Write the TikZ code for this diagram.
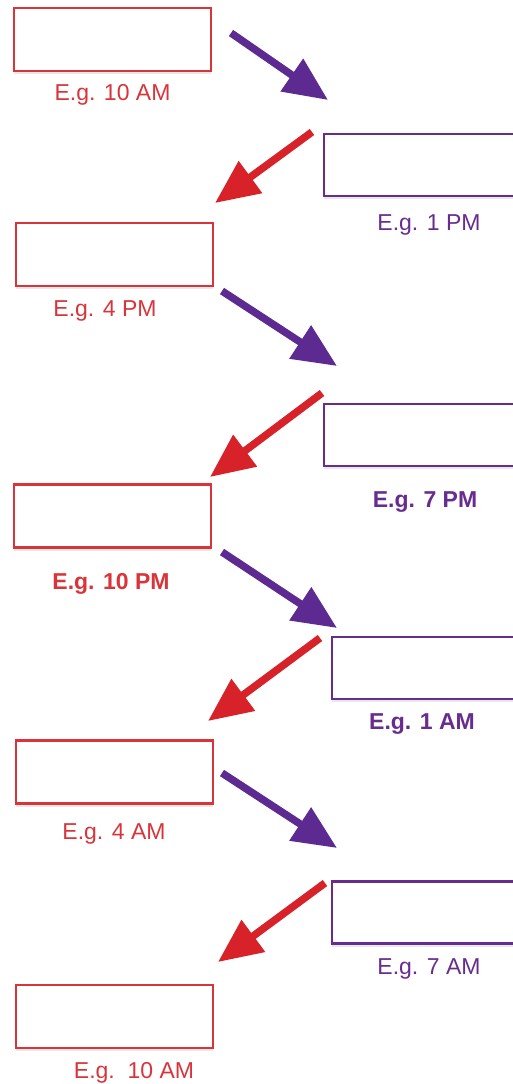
\documentclass[tikz,border=0pt]{standalone}
\usepackage{fontspec}
\setmainfont{Liberation Sans}
\usepackage{tikz}
\usetikzlibrary{arrows.meta, positioning, shadows}

\definecolor{boxred}{RGB}{216,52,58}
\definecolor{arrred}{RGB}{214,34,40}
\definecolor{boxpurple}{RGB}{104,44,142}
\definecolor{arrpurple}{RGB}{92,42,145}

\begin{document}
\begin{tikzpicture}[x=1pt, y=-1pt,
    redbox/.style={draw=boxred, line width=2.4pt, fill=white, minimum width=197pt, minimum height=63pt,
        drop shadow={opacity=0.18, shadow xshift=0pt, shadow yshift=-3pt}},
    purplebox/.style={draw=boxpurple, line width=2.4pt, fill=white, minimum width=230pt, minimum height=62pt,
        anchor=west, drop shadow={opacity=0.18, shadow xshift=0pt, shadow yshift=-3pt}},
    redlabel/.style={text=boxred, font=\fontsize{23}{27}\selectfont, inner sep=0pt},
    purplelabel/.style={text=boxpurple, font=\fontsize{23}{27}\selectfont, inner sep=0pt},
    fwdarrow/.style={arrpurple, line width=7.5pt, -{Triangle[length=44pt, width=38pt]}},
    backarrow/.style={arrred, line width=7.5pt, -{Triangle[length=44pt, width=38pt]}}]
    \useasboundingbox (0,0) rectangle (513,1084);
    \clip (0,0) rectangle (513,1084);

    % Left column
    \node[redbox] (l1) at (112.5,39.5) {};
    \node[redbox] (l2) at (114.5,254.5) {};
    \node[redbox] (l3) at (112.5,516) {};
    \node[redbox] (l4) at (114.5,772) {};
    \node[redbox] (l5) at (114.5,1016.5) {};

    % Right column
    \node[purplebox] (r1) at (323,165) {};
    \node[purplebox] (r2) at (323,435) {};
    \node[purplebox] (r3) at (331,668) {};
    \node[purplebox] (r4) at (331,912.5) {};

    % Labels
    \node[redlabel] (t-l1) at (112.5,94.5) {E.g. 10 AM};
    \node[purplelabel] (t-r1) at (429,224.5) {E.g. 1 PM};
    \node[redlabel] (t-l2) at (105,311) {E.g. 4 PM};
    \node[purplelabel, font=\fontsize{23}{27}\selectfont\bfseries] (t-r2) at (425,502) {E.g. 7 PM};
    \node[redlabel, font=\fontsize{23}{27}\selectfont\bfseries] (t-l3) at (111,584) {E.g. 10 PM};
    \node[purplelabel, font=\fontsize{23}{27}\selectfont\bfseries] (t-r3) at (422,724) {E.g. 1 AM};
    \node[redlabel] (t-l4) at (114,833.5) {E.g. 4 AM};
    \node[purplelabel] (t-r4) at (429,969) {E.g. 7 AM};
    \node[redlabel] (t-l5) at (134,1073) {E.g.\ \ 10 AM};

    % Arrow ends
    \coordinate (f1s) at (231,33);  \coordinate (f1e) at (328,100);
    \coordinate (f2s) at (222,291); \coordinate (f2e) at (337,366);
    \coordinate (f3s) at (222,552); \coordinate (f3e) at (337,628);
    \coordinate (f4s) at (222,773); \coordinate (f4e) at (337,848);
    \coordinate (b1s) at (312,132); \coordinate (b1e) at (215,203);
    \coordinate (b2s) at (322,393); \coordinate (b2e) at (210,477);
    \coordinate (b3s) at (320,638); \coordinate (b3e) at (208,721);
    \coordinate (b4s) at (325,883); \coordinate (b4e) at (218,962);

    % Forward arrows
    \draw[fwdarrow] (f1s) -- (f1e);
    \draw[fwdarrow] (f2s) -- (f2e);
    \draw[fwdarrow] (f3s) -- (f3e);
    \draw[fwdarrow] (f4s) -- (f4e);

    % Back arrows
    \draw[backarrow] (b1s) -- (b1e);
    \draw[backarrow] (b2s) -- (b2e);
    \draw[backarrow] (b3s) -- (b3e);
    \draw[backarrow] (b4s) -- (b4e);
\end{tikzpicture}
\end{document}
